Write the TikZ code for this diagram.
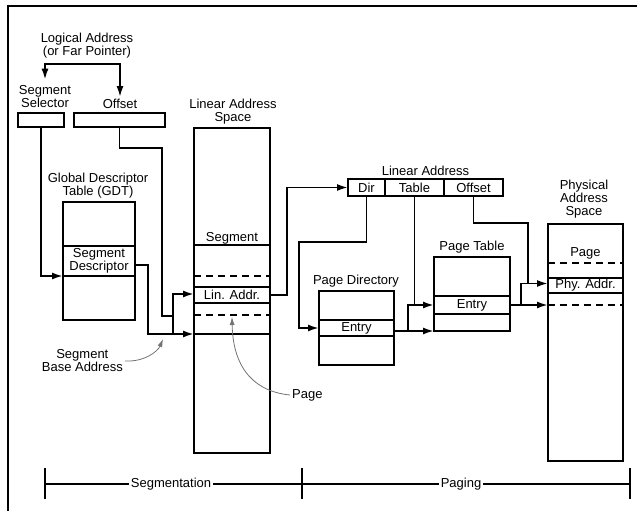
\documentclass[tikz,border=0pt]{standalone}
\usepackage{fontspec}
\setmainfont{Liberation Sans}
\usepackage{tikz}
\usetikzlibrary{positioning,arrows.meta}

\begin{document}
\begin{tikzpicture}[
  x=1pt,y=-1pt,
  font=\fontsize{13pt}{13pt}\selectfont,
  line/.style={-,line width=1.9pt},
  arr/.style={-{Latex[length=11pt,width=7pt]},line width=1.9pt},
  dashline/.style={line width=1.9pt,dash pattern=on 7pt off 5pt},
  callout/.style={-{Latex[length=8pt,width=5pt]},line width=0.8pt,draw=black!55},
  box/.style={draw,line width=1.9pt,inner sep=0pt,outer sep=0pt,align=center},
  lbl/.style={inner sep=2pt,align=center}
]
\useasboundingbox (0,0) rectangle (637,511);
\draw[line] (637,6) -- (8,6) -- (8,511);

% logical address
\node[lbl] (logical) at (87,45.5) {Logical Address\\(or Far Pointer)};
\node[lbl] (sellbl) at (45,97) {Segment\\Selector};
\node[lbl] (offlbl) at (120,104) {Offset};
\node[box,minimum width=46,minimum height=14] (selbox) at (41,120) {};
\node[box,minimum width=91,minimum height=14] (offbox) at (119.5,120) {};
\coordinate (lgbar) at (85,64);
\draw[arr] (lgbar) -| ([yshift=4pt]sellbl.north);
\draw[arr] (lgbar) -| (offlbl.north);

% GDT
\node[lbl] (gdtlbl) at (98,186) {Global Descriptor\\Table (GDT)};
\node[box,minimum width=72,minimum height=44] (gdttop) at (99,224) {};
\node[box,minimum width=72,minimum height=30,below=0pt of gdttop] (gdtdesc) {Segment\\Descriptor};
\node[box,minimum width=72,minimum height=44,below=0pt of gdtdesc] (gdtbot) {};

% linear address space
\node[lbl] (linlbl) at (233,111.5) {Linear Address\\Space};
\node[box,minimum width=76,minimum height=117] (lina) at (232,186.5) {};
\node[box,minimum width=76,minimum height=42,below=0pt of lina] (linb) {};
\node[box,minimum width=76,minimum height=16,below=0pt of linb] (linaddr) {Lin. Addr.};
\node[box,minimum width=76,minimum height=31,below=0pt of linaddr] (linc) {};
\node[box,minimum width=76,minimum height=119,below=0pt of linc] (lind) {};
\node[lbl,inner sep=0pt,above=1pt of lina.south] (seglbl) {Segment};
\draw[dashline] ([yshift=-31pt]linb.north west) -- ([yshift=-31pt]linb.north east);
\draw[dashline] ([yshift=-12pt]linc.north west) -- ([yshift=-12pt]linc.north east);

\draw[arr] (selbox.south) |- (gdtdesc.south west);
\draw[arr] ([yshift=-4pt]gdtdesc.east) -- ++(13,0) |- (lind.north west);
\coordinate (addj) at (173,316);
\draw[line] (offbox.south) -- ++(0,21) -| ([xshift=-11pt]addj) -- (addj);
\draw[arr] (addj |- lind.north) |- ([yshift=1pt]linaddr.west);

\node[lbl,anchor=east] (baselbl) at (125,361) {Segment\\Base Address};
\coordinate (basetip) at (163,339);
\draw[callout] (baselbl.east) .. controls +(20,1) and +(-5,12) .. (basetip);
\node[lbl,anchor=west] (pagelbl) at (290,395) {Page};
\coordinate (pagetip) at (232,317);
\draw[callout] (pagelbl.west) .. controls (258,392) and (233,372) .. (pagetip);

% linear address fields
\node[lbl] (lalbl) at (425.5,171) {Linear Address};
\node[box,minimum width=37,minimum height=17] (ladir) at (366.5,187.5) {Dir};
\node[box,minimum width=59,minimum height=17,right=0pt of ladir] (latab) {Table};
\node[box,minimum width=59,minimum height=17,right=0pt of latab] (laoff) {Offset};
\draw[arr] (linaddr.east) -- ++(17,0) |- (ladir.west);

% page directory
\node[lbl] (pdlbl) at (356,281) {Page Directory};
\node[box,minimum width=75,minimum height=29] (pdtop) at (356.5,305.5) {};
\node[box,minimum width=75,minimum height=16,below=0pt of pdtop] (pdentry) {Entry};
\node[box,minimum width=75,minimum height=29,below=0pt of pdentry] (pdbot) {};
\coordinate (dirbend) at (299,242);
\draw[arr] (ladir.south) |- (dirbend) |- (pdentry.west);

% page table
\node[lbl] (ptlbl) at (472,247) {Page Table};
\node[box,minimum width=76,minimum height=39] (pttop) at (472,276.5) {};
\node[box,minimum width=76,minimum height=18,below=0pt of pttop] (ptentry) {Entry};
\node[box,minimum width=76,minimum height=17,below=0pt of ptentry] (ptbot) {};
\draw[arr] (pdentry.east |- ptbot.south) -- (ptbot.south west);
\coordinate (ptj) at (408,331);
\draw[arr] (ptj) |- (ptentry.west);
\draw[line] (latab.south) -- (latab.south |- ptentry.west);

% physical address space
\node[lbl] (phylbl) at (584,199) {Physical\\Address\\Space};
\node[box,minimum width=75,minimum height=54] (phya) at (585.5,251) {};
\node[box,minimum width=75,minimum height=15,below=0pt of phya] (phyaddr) {Phy. Addr.};
\node[box,minimum width=75,minimum height=168,below=0pt of phyaddr] (phyb) {};
\node[lbl] (phpage) at ([yshift=-29pt]phya.north) {Page};
\draw[dashline] ([yshift=-39pt]phya.north west) -- ([yshift=-39pt]phya.north east);
\draw[dashline] ([yshift=-12pt]phyb.north west) -- ([yshift=-12pt]phyb.north east);
\draw[arr] (ptentry.east) -- (ptentry.east -| phyb.west);
\coordinate (phin) at ([yshift=2pt]phyaddr.west);
\coordinate (phj) at (521,305);
\draw[arr] (phj) |- (phin);
\coordinate (offbend) at (528,223);
\draw[line] (laoff.south) |- (offbend) -- (offbend |- phin);

% segmentation / paging span
\coordinate (spanl) at (45,484);
\coordinate (spanm) at (302,484);
\coordinate (spanr) at (630,484);
\node[lbl] (segmlbl) at (171,484) {Segmentation};
\node[lbl] (paglbl) at (461,484) {Paging};
\draw[line] (spanl) -- (segmlbl.west);
\draw[line] (segmlbl.east) -- (spanm) -- (paglbl.west);
\draw[line] (paglbl.east) -- (spanr);
\foreach \t in {spanl,spanm,spanr}
  \draw[line] ([yshift=16pt]\t) -- ([yshift=-15pt]\t);
\end{tikzpicture}
\end{document}
